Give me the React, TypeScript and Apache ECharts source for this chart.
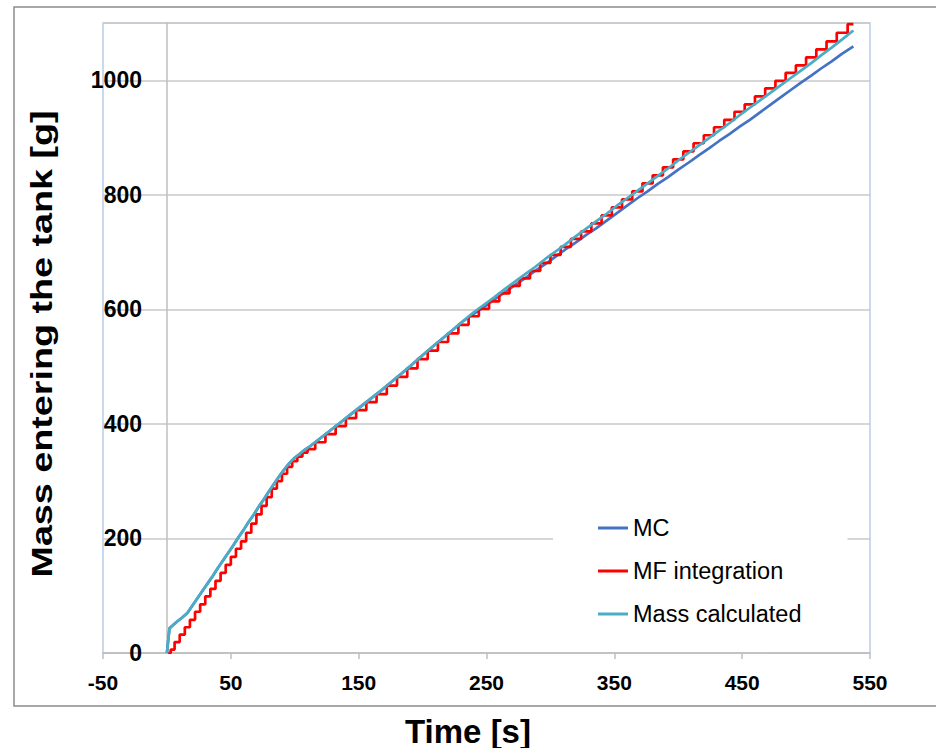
import React, { useEffect, useRef } from "react";
import * as echarts from "echarts";

const times = [
  0, 2, 4, 8, 12, 16, 20, 24, 28, 32, 36, 40, 44, 48, 52, 56, 60, 64, 68, 72, 76, 80, 84, 88, 92, 96, 100, 104, 108, 112,
  120, 128, 136, 144, 152, 160, 168, 176, 184, 192, 200, 208, 216, 224, 232, 240, 248, 256, 264, 272, 280, 288, 296, 304,
  312, 320, 328, 336, 344, 352, 360, 368, 376, 384, 392, 400, 408, 416, 424, 432, 440, 448, 456, 464, 472, 480, 488, 496,
  504, 512, 520, 528, 537,
];

const massCalculated = [
  0, 43, 47, 55, 62, 70, 83, 96, 109, 122, 135, 149, 162, 175, 188, 202, 215, 229, 242, 256, 269, 283, 296, 309, 321, 332,
  341, 348, 355, 361,
  375, 389, 403, 417, 431, 445, 459, 474, 489, 504, 520, 535, 550, 565, 580, 595, 608, 621, 635, 648, 661, 674, 688, 701,
  714, 728, 741, 754, 767, 781, 794, 807, 820, 833, 846, 860, 873, 886, 899, 912, 925, 939, 952, 965, 978, 991, 1004, 1017,
  1030, 1044, 1057, 1071, 1087,
];

const mc = [
  0, 43, 47, 55, 62, 70, 83, 96, 109, 122, 135, 149, 162, 175, 188, 202, 215, 229, 242, 256, 269, 283, 296, 309, 321, 332,
  341, 348, 355, 361,
  375, 389, 403, 417, 431, 445, 459, 474, 489, 504, 520, 535, 550, 565, 580, 592, 604, 617, 629, 642, 654, 667, 679, 692,
  705, 717, 730, 742, 755, 768, 781, 794, 806, 819, 831, 844, 856, 869, 881, 894, 906, 919, 931, 944, 957, 970, 983, 996,
  1008, 1021, 1033, 1046, 1059,
];

const mfIntegration = [
  null, 0, 6, 19, 32, 45, 58, 72, 85, 99, 112, 126, 140, 154, 168, 182, 195, 210, 226, 242, 257, 272, 287, 300, 313, 325,
  335, 343, 350, 356,
  368, 382, 396, 410, 424, 438, 452, 467, 482, 497, 513, 528, 543, 558, 573, 588, 601, 614, 628, 641, 654, 667, 681, 695,
  709, 723, 736, 750, 764, 778, 792, 806, 820, 834, 848, 862, 876, 890, 904, 918, 931, 945, 958, 972, 986, 999, 1013, 1026,
  1040, 1054, 1068, 1083, 1098,
];

const seriesNames = ["MC", "MF integration", "Mass calculated"];
const seriesColors = ["#4472c4", "#ff0000", "#4bacc6"];

const pair = (vals: (number | null)[]) => times.map((t, i) => [t, vals[i]]);

export default function App() {
  const ref = useRef<HTMLDivElement>(null);
  useEffect(() => {
    if (!ref.current) return;
    const chart = echarts.init(ref.current, null, { renderer: "svg" });
    const valueSets = [mc, mfIntegration, massCalculated];
    chart.setOption({
      animation: false,
      backgroundColor: "#ffffff",
      grid: {
        left: 103,
        top: 23,
        right: 66,
        bottom: 95,
        show: true,
        borderColor: "#b9cde5",
        borderWidth: 1.5,
      },
      xAxis: {
        type: "value",
        min: -50,
        max: 550,
        interval: 100,
        axisLine: { onZero: false, lineStyle: { color: "#bfbfbf", width: 1.5 } },
        axisTick: { show: true, length: 6, lineStyle: { color: "#bfbfbf", width: 1.5 } },
        splitLine: { show: false },
        axisLabel: {
          margin: 19,
          color: "#000",
          fontSize: 21,
          fontWeight: "bold",
          fontFamily: "Liberation Sans, Arial",
        },
      },
      yAxis: {
        type: "value",
        min: 0,
        max: 1100,
        interval: 200,
        offset: -64,
        axisLine: { show: true, onZero: false, lineStyle: { color: "#bfbfbf", width: 1.5 } },
        axisTick: { show: false },
        splitLine: { show: true, lineStyle: { color: "#c8c8c8", width: 1.5 } },
        axisLabel: {
          margin: 25,
          color: "#000",
          fontSize: 23,
          fontWeight: "bold",
          fontFamily: "Liberation Sans, Arial",
          showMaxLabel: false,
          formatter: (v: number) => String(v),
        },
      },
      legend: {
        orient: "vertical",
        left: 553,
        top: 502,
        backgroundColor: "#ffffff",
        padding: [14, 46, 14, 45],
        itemWidth: 30,
        itemHeight: 3,
        itemGap: 19,
        icon: "rect",
        data: seriesNames,
        textStyle: {
          color: "#000",
          fontSize: 23.5,
          lineHeight: 24,
          fontFamily: "Liberation Sans, Arial",
        },
      },
      series: seriesNames.map((name, k) => ({
        name,
        type: "line",
        data: pair(valueSets[k]),
        symbol: "none",
        step: k === 1 ? "middle" : false,
        color: seriesColors[k],
        lineStyle: { color: seriesColors[k], width: 2.7 },
        z: 3 + k,
      })),
      graphic: [
        {
          type: "rect",
          shape: { x: 14, y: 7, width: 940, height: 699 },
          style: { fill: "none", stroke: "#8c8c8c", lineWidth: 1.5 },
          z: -1,
          silent: true,
        },
        {
          type: "text",
          x: 42,
          y: 344,
          rotation: Math.PI / 2,
          scaleX: 1.3,
          style: {
            text: "Mass entering the tank [g]",
            fontSize: 29,
            fontWeight: "bold",
            fontFamily: "Liberation Sans, Arial",
            fill: "#000",
            align: "center",
            verticalAlign: "middle",
          },
        },
        {
          type: "text",
          x: 468,
          y: 731,
          style: {
            text: "Time [s]",
            fontSize: 33,
            fontWeight: "bold",
            fontFamily: "Liberation Sans, Arial",
            fill: "#000",
            align: "center",
            verticalAlign: "middle",
          },
        },
      ],
    });
    return () => chart.dispose();
  }, []);
  return (
    <div
      ref={ref}
      style={{ position: "fixed", left: 0, top: 0, width: 936, height: 748 }}
    />
  );
}
